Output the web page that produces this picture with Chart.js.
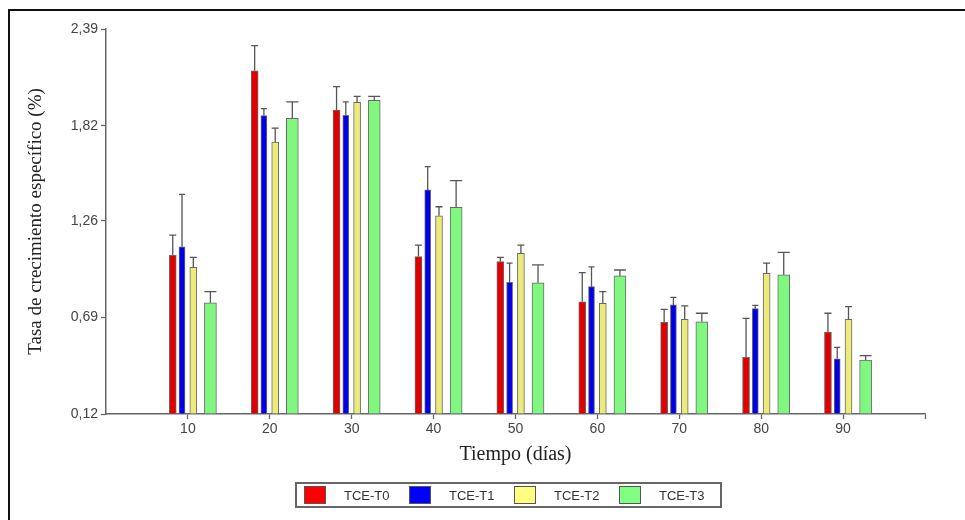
<!DOCTYPE html>
<html>
<head>
<meta charset="utf-8">
<script src="https://cdn.jsdelivr.net/npm/chart.js@4"></script>
<style>
  html, body { margin: 0; padding: 0; background: #fff; }
  #wrap { position: relative; width: 965px; height: 520px; overflow: hidden; }
  #frame { position: absolute; left: 8px; top: 9px; width: 1000px; height: 600px;
           border-top: 2px solid #111; border-left: 2px solid #111; }
  #chart { position: absolute; left: 0; top: 0; }
  #legend { position: absolute; left: 295px; top: 482px; height: 20px; padding: 1px 0 1px 7px;
            border: 2px solid #666; display: flex; align-items: center;
            font: 13px "Liberation Sans", Arial, sans-serif; color: #333; }
  .item { display: flex; align-items: center; width: 105px; }
  .item:last-child { width: 101px; }
  .swatch { width: 20px; height: 16px; border: 1px solid #555; margin-right: 18px; }
</style>
</head>
<body>
<div id="wrap">
  <div id="frame"></div>
  <canvas id="chart" width="965" height="520"></canvas>
  <div id="legend"></div>
</div>
<script>
const days = [10, 20, 30, 40, 50, 60, 70, 80, 90];
const seriesNames = ['TCE-T0', 'TCE-T1', 'TCE-T2', 'TCE-T3'];

// mean growth rate per treatment
const t0 = [1.056, 2.144, 1.912, 1.048, 1.018, 0.782, 0.661, 0.454, 0.603];
const t1 = [1.106, 1.879, 1.881, 1.441, 0.896, 0.871, 0.763, 0.741, 0.446];
const t2 = [0.985, 1.724, 1.958, 1.289, 1.067, 0.773, 0.678, 0.950, 0.678];
const t3 = [0.776, 1.863, 1.970, 1.339, 0.894, 0.934, 0.664, 0.940, 0.438];

// standard deviation (upper error bar)
const t0Err = [0.119, 0.148, 0.138, 0.068, 0.026, 0.171, 0.076, 0.230, 0.111];
const t1Err = [0.309, 0.041, 0.079, 0.137, 0.113, 0.117, 0.045, 0.020, 0.067];
const t2Err = [0.059, 0.081, 0.035, 0.053, 0.049, 0.068, 0.079, 0.059, 0.075];
const t3Err = [0.065, 0.097, 0.023, 0.157, 0.105, 0.035, 0.050, 0.133, 0.026];

const yTicks = [0.12, 0.69, 1.26, 1.82, 2.39];

const seriesValues = [t0, t1, t2, t3];
const seriesErrors = [t0Err, t1Err, t2Err, t3Err];
const fills = ['#e00000', '#0000e8', '#ecea7a', '#80f880'];
const widths = [7, 6, 7, 12];
const shifts = [-1.85, -0.72, 0.66, 2.75];   // bar offset inside each group, in days

const errorBars = {
    id: 'errorBars',
    afterDatasetsDraw(chart) {
        const ctx = chart.ctx;
        const y = chart.scales.y;
        ctx.save();
        ctx.strokeStyle = '#555';
        ctx.lineWidth = 1.3;
        chart.data.datasets.forEach((ds, di) => {
            const meta = chart.getDatasetMeta(di);
            meta.data.forEach((bar, i) => {
                const top = y.getPixelForValue(ds.data[i].y + seriesErrors[di][i]);
                const half = bar.width / 2;
                ctx.beginPath();
                ctx.moveTo(bar.x, bar.y);
                ctx.lineTo(bar.x, top);
                ctx.moveTo(bar.x - half, top);
                ctx.lineTo(bar.x + half, top);
                ctx.stroke();
            });
        });
        ctx.restore();
    }
};

new Chart(document.getElementById('chart').getContext('2d'), {
    type: 'bar',
    data: {
        datasets: seriesNames.map((name, s) => ({
            label: name,
            data: days.map((d, i) => ({ x: d + shifts[s], y: seriesValues[s][i] })),
            backgroundColor: fills[s],
            borderColor: '#6a6a6a',
            borderWidth: 1,
            barThickness: widths[s],
            base: yTicks[0],
            grouped: false
        }))
    },
    options: {
        responsive: false,
        animation: false,
        layout: { padding: { top: 29, right: 40, left: 0, bottom: 0 } },
        plugins: { legend: { display: false }, tooltip: { enabled: false } },
        scales: {
            x: {
                type: 'linear',
                min: 0,
                max: 100,
                offset: false,
                afterFit: (scale) => { scale.height = 106; },
                afterBuildTicks: (scale) => {
                    scale.ticks = [...days, 100].map(v => ({ value: v }));
                },
                ticks: {
                    callback: (v) => days.includes(v) ? String(v) : '',
                    color: '#444',
                    padding: 2,
                    maxRotation: 0,
                    font: { family: 'Liberation Sans', size: 14 }
                },
                grid: { offset: false, drawOnChartArea: false, tickLength: 5, tickColor: '#666', tickWidth: 1.3 },
                border: { color: '#666', width: 1.5 },
                title: {
                    display: true,
                    text: 'Tiempo (días)',
                    color: '#222',
                    font: { family: 'Liberation Serif', size: 20 },
                    padding: { top: 0, bottom: 53 }
                }
            },
            y: {
                min: yTicks[0],
                max: yTicks[yTicks.length - 1],
                afterFit: (scale) => { scale.width = 106; },
                afterBuildTicks: (scale) => {
                    scale.ticks = yTicks.map(v => ({ value: v }));
                },
                ticks: {
                    callback: (v) => v.toFixed(2).replace('.', ','),
                    color: '#444',
                    padding: 3,
                    font: { family: 'Liberation Sans', size: 14 }
                },
                grid: { drawOnChartArea: false, tickLength: 5, tickColor: '#666', tickWidth: 1.3 },
                border: { color: '#666', width: 1.5 },
                title: {
                    display: true,
                    text: 'Tasa de crecimiento específico (%)',
                    color: '#222',
                    font: { family: 'Liberation Serif', size: 19 },
                    padding: { top: 25, bottom: 0 }
                }
            }
        }
    },
    plugins: [errorBars]
});

// legend row under the plot
const legend = document.getElementById('legend');
seriesNames.forEach((name, s) => {
    const item = document.createElement('div');
    item.className = 'item';
    const sw = document.createElement('span');
    sw.className = 'swatch';
    sw.style.background = ['#ff0000', '#0000ff', '#ffff80', '#80ff80'][s];
    const label = document.createElement('span');
    label.textContent = name;
    item.appendChild(sw);
    item.appendChild(label);
    legend.appendChild(item);
});
</script>
</body>
</html>
